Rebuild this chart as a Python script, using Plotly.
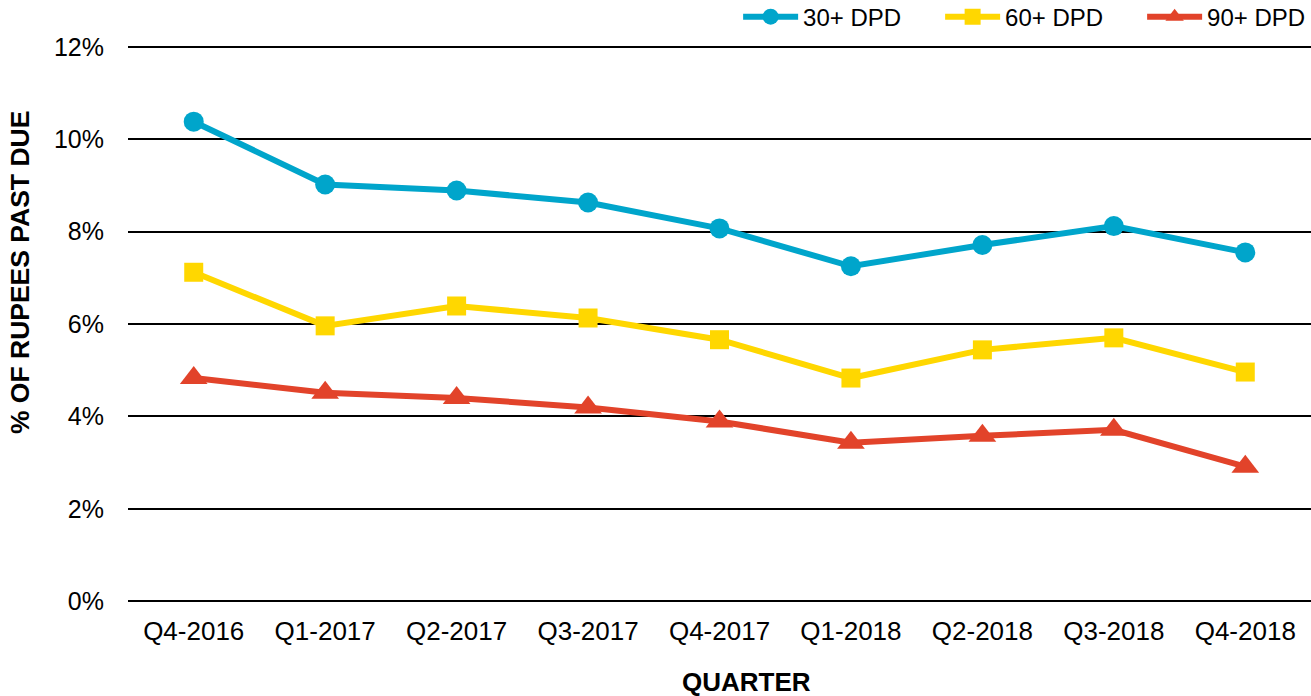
import plotly.graph_objects as go

quarters = ["Q4-2016", "Q1-2017", "Q2-2017", "Q3-2017", "Q4-2017",
            "Q1-2018", "Q2-2018", "Q3-2018", "Q4-2018"]
dpd30 = [10.38, 9.02, 8.89, 8.63, 8.07, 7.25, 7.71, 8.12, 7.55]
dpd60 = [7.12, 5.96, 6.39, 6.13, 5.66, 4.83, 5.44, 5.70, 4.96]
dpd90 = [4.83, 4.51, 4.40, 4.19, 3.89, 3.43, 3.58, 3.71, 2.91]

series = [
    ("30+ DPD", dpd30, "#00A5CB", "circle", 20),
    ("60+ DPD", dpd60, "#FFD700", "square", 19),
    ("90+ DPD", dpd90, "#E2432A", "triangle-up", 24),
]

fig = go.Figure()
for name, vals, color, sym, sz in series:
    fig.add_trace(go.Scatter(
        x=quarters, y=[v / 100 for v in vals], name=name, mode="lines+markers",
        line=dict(color=color, width=6),
        marker=dict(symbol=sym, size=sz, color=color),
    ))

font = "Liberation Sans, Arial, sans-serif"
fig.update_layout(
    width=1311, height=696,
    margin=dict(l=128, r=0, t=45, b=93, autoexpand=False),
    paper_bgcolor="white", plot_bgcolor="white",
    font=dict(family=font, size=24, color="black"),
    showlegend=True,
    legend=dict(orientation="h", x=1.028, xanchor="right", y=1.05, yanchor="middle",
                font=dict(size=24), itemwidth=55, tracegroupgap=0,
                entrywidth=132, entrywidthmode="pixels",
                bgcolor="rgba(0,0,0,0)"),
    xaxis=dict(
        showgrid=False, zeroline=False, showline=False, ticks="",
        tickfont=dict(size=26), ticklabelstandoff=10,
        range=[-0.5, 8.5],
    ),
    yaxis=dict(
        range=[-0.0004, 0.1204], tickvals=[0, 0.02, 0.04, 0.06, 0.08, 0.10, 0.12],
        tickformat=".0%",
        showgrid=True, gridcolor="black", gridwidth=2,
        zeroline=False, showline=False, ticks="outside", ticklen=18,
        tickcolor="rgba(0,0,0,0)",
        tickfont=dict(size=25),
    ),
    annotations=[
        dict(text="<b>% OF RUPEES PAST DUE</b>", textangle=-90,
             xref="paper", yref="paper", x=-0.0913, y=0.593,
             xanchor="center", yanchor="middle", showarrow=False,
             font=dict(size=26.5)),
        dict(text="<b>QUARTER</b>",
             xref="paper", yref="paper", x=0.5232, y=-0.142,
             xanchor="center", yanchor="middle", showarrow=False,
             font=dict(size=26)),
    ],
)
fig.write_html("out.html", config={"displayModeBar": False},
               post_script="document.body.style.margin='0';document.body.style.padding='0';")
